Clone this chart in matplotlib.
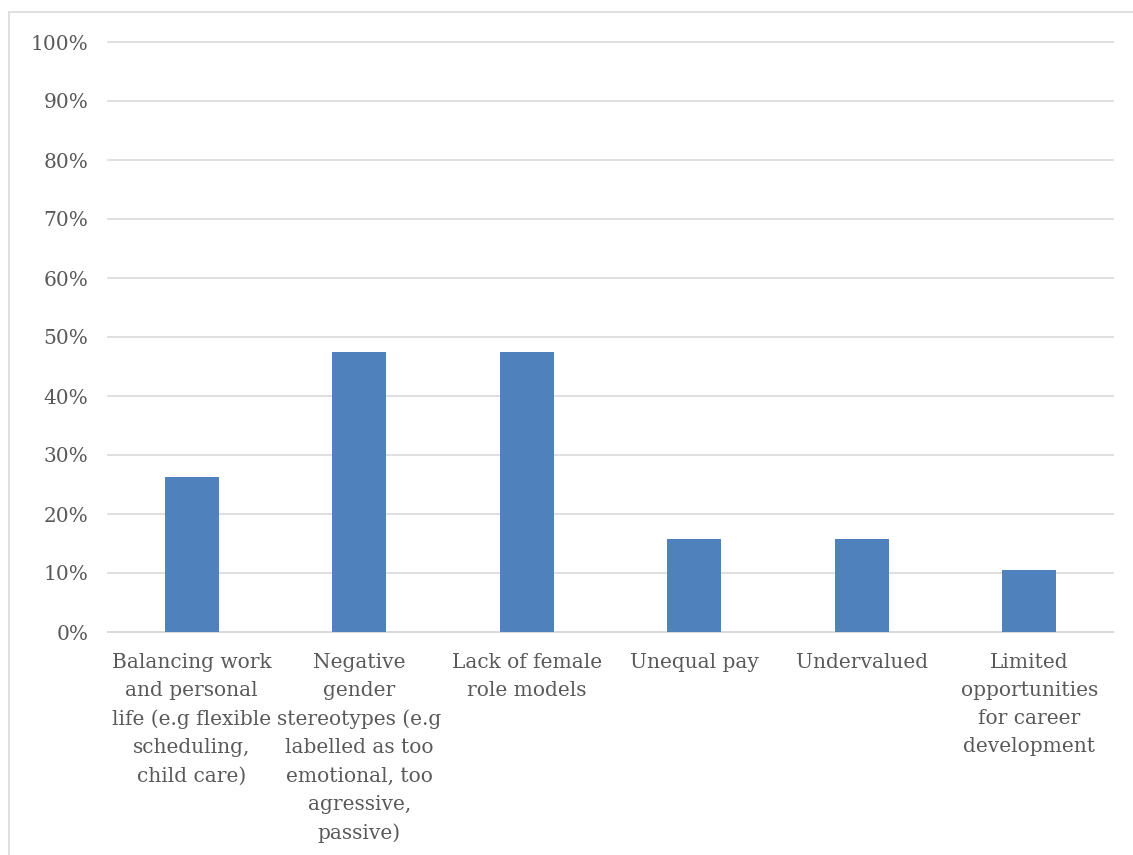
import matplotlib
matplotlib.use("Agg")
import matplotlib.pyplot as plt
from matplotlib.patches import Rectangle
from matplotlib.ticker import PercentFormatter, MultipleLocator

categories = [
    "Balancing work\nand personal\nlife (e.g flexible\nscheduling,\nchild care)",
    "Negative\ngender\nstereotypes (e.g\nlabelled as too\nemotional, too\nagressive,\npassive)",
    "Lack of female\nrole models",
    "Unequal pay",
    "Undervalued",
    "Limited\nopportunities\nfor career\ndevelopment",
]
values = [0.263, 0.474, 0.474, 0.158, 0.158, 0.105]

W, H = 1133, 855
fig = plt.figure(figsize=(W / 100, H / 100), dpi=100)
fig.patch.set_facecolor("white")

# outer chart frame
fig.patches.append(Rectangle((9 / W, -0.1), 1.2, 1.1 - 12 / H,
                             transform=fig.transFigure, fill=False,
                             edgecolor="#d9d9d9", linewidth=1.2))

left, right = 108 / W, 1113 / W
bottom, top = (H - 632) / H, (H - 42) / H
ax = fig.add_axes([left, bottom, right - left, top - bottom])

x = range(len(categories))
ax.bar(x, values, width=0.32, color="#4f81bd", zorder=3)
ax.set_xlim(-0.5, len(categories) - 0.5)
ax.set_ylim(0, 1.0)
ax.yaxis.set_major_locator(MultipleLocator(0.1))
ax.yaxis.set_major_formatter(PercentFormatter(1.0, decimals=0))
ax.grid(axis="y", color="#d9d9d9", linewidth=1.2, zorder=0)
ax.set_axisbelow(True)
for g in ax.get_ygridlines():
    g.set_clip_on(False)
for s in ["top", "right", "left"]:
    ax.spines[s].set_visible(False)
ax.spines["bottom"].set_color("#d9d9d9")
ax.spines["bottom"].set_linewidth(1.2)

ax.set_xticks(list(x))
ax.set_xticklabels(categories, fontfamily="DejaVu Serif", fontsize=14.5,
                   color="#595959", linespacing=1.61, ha="center", va="top")
for lab in ax.get_yticklabels():
    lab.set_fontfamily("DejaVu Serif")
    lab.set_fontsize(14.5)
    lab.set_color("#595959")
ax.tick_params(axis="x", length=0, pad=15)
ax.tick_params(axis="y", length=0, pad=14)

fig.savefig("out.png", dpi=100, facecolor="white")
